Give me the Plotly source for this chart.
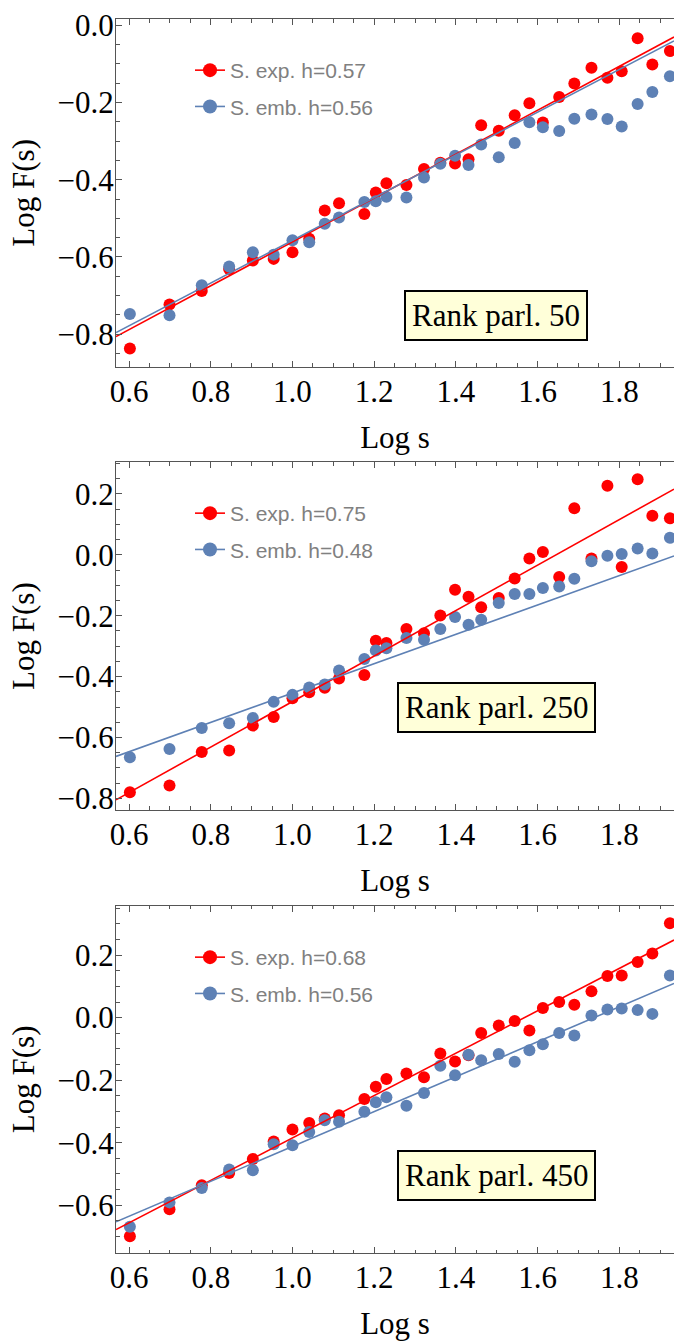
import numpy as np
import plotly.graph_objects as go

# ---------------- data ----------------
log_s = [0.602, 0.699, 0.778, 0.845, 0.903, 0.954, 1.000, 1.041, 1.079, 1.114,
         1.176, 1.204, 1.230, 1.279, 1.322, 1.362, 1.398, 1.431, 1.462, 1.505,
         1.544, 1.580, 1.613, 1.653, 1.690, 1.732, 1.771, 1.806, 1.845, 1.881, 1.924]

exp_50 = [-0.837, -0.723, -0.688, -0.631, -0.609, -0.605, -0.588, -0.553, -0.480, -0.461,
          -0.489, -0.433, -0.409, -0.414, -0.372, -0.356, -0.358, -0.347, -0.259, -0.273,
          -0.233, -0.202, -0.252, -0.186, -0.151, -0.110, -0.136, -0.119, -0.034, -0.102, -0.067]
emb_50 = [-0.748, -0.751, -0.673, -0.625, -0.588, -0.594, -0.557, -0.562, -0.514, -0.498,
          -0.458, -0.456, -0.444, -0.446, -0.394, -0.359, -0.338, -0.362, -0.309, -0.342,
          -0.305, -0.251, -0.264, -0.274, -0.242, -0.231, -0.243, -0.262, -0.204, -0.173, -0.132]

exp_250 = [-0.780, -0.758, -0.648, -0.643, -0.561, -0.533, -0.471, -0.451, -0.437, -0.406,
           -0.395, -0.282, -0.290, -0.244, -0.258, -0.199, -0.115, -0.138, -0.172, -0.142,
           -0.078, -0.012, 0.009, -0.073, 0.153, -0.012, 0.227, -0.040, 0.248, 0.128, 0.120]
emb_250 = [-0.665, -0.638, -0.569, -0.553, -0.536, -0.483, -0.460, -0.436, -0.426, -0.380,
           -0.342, -0.314, -0.307, -0.273, -0.279, -0.244, -0.204, -0.230, -0.213, -0.158,
           -0.129, -0.129, -0.109, -0.104, -0.079, -0.021, -0.003, 0.003, 0.021, 0.004, 0.056]

exp_450 = [-0.699, -0.613, -0.536, -0.497, -0.452, -0.396, -0.358, -0.337, -0.323, -0.312,
           -0.260, -0.221, -0.196, -0.179, -0.191, -0.115, -0.140, -0.120, -0.049, -0.025,
           -0.011, -0.041, 0.031, 0.050, 0.041, 0.084, 0.133, 0.135, 0.178, 0.205, 0.302]
emb_450 = [-0.669, -0.591, -0.545, -0.486, -0.488, -0.405, -0.408, -0.366, -0.328, -0.333,
           -0.301, -0.271, -0.255, -0.282, -0.241, -0.154, -0.184, -0.119, -0.136, -0.116,
           -0.141, -0.104, -0.085, -0.049, -0.057, 0.007, 0.026, 0.029, 0.024, 0.012, 0.135]

ranks = [50, 250, 450]
h_exp = [0.57, 0.75, 0.68]          # legend values
h_emb = [0.56, 0.48, 0.56]
fit_slope_exp = [0.568, 0.747, 0.678]
fit_icpt_exp = [-1.129, -1.229, -1.063]
fit_slope_emb = [0.553, 0.482, 0.558]
fit_icpt_emb = [-1.110, -0.936, -0.970]

exp_series = [exp_50, exp_250, exp_450]
emb_series = [emb_50, emb_250, emb_450]

x_range = [0.568, 1.934]
y_ranges = [[-0.884, 0.016], [-0.838, 0.304], [-0.753, 0.358]]
y_domains = [[0.7266, 0.9858], [0.3960, 0.6553], [0.0656, 0.3246]]

RED = "rgb(255,0,0)"
BLUE = "rgb(94,129,181)"
FRAME = "rgb(85,85,85)"
SERIF = "Liberation Serif, Times New Roman, serif"
SANS = "Liberation Sans, Arial, sans-serif"

W, H = 674, 1341
fig = go.Figure()

legend_px = [70, 513, 957]
box_px = [(496, 315), (496, 707), (496, 1175)]

for i in range(3):
    sfx = "" if i == 0 else str(i + 1)
    xa, ya = "x" + sfx, "y" + sfx
    leg = "legend" + sfx
    xs = np.array(x_range)
    fig.add_trace(go.Scatter(x=log_s, y=exp_series[i], mode="markers", xaxis=xa, yaxis=ya,
                             marker=dict(color=RED, size=12), showlegend=False))
    fig.add_trace(go.Scatter(x=log_s, y=emb_series[i], mode="markers", xaxis=xa, yaxis=ya,
                             marker=dict(color=BLUE, size=12), showlegend=False))
    fig.add_trace(go.Scatter(x=xs, y=fit_icpt_exp[i] + fit_slope_exp[i] * xs, mode="lines",
                             xaxis=xa, yaxis=ya, line=dict(color=RED, width=1.6), showlegend=False))
    fig.add_trace(go.Scatter(x=xs, y=fit_icpt_emb[i] + fit_slope_emb[i] * xs, mode="lines",
                             xaxis=xa, yaxis=ya, line=dict(color=BLUE, width=1.6), showlegend=False))
    # legend entries
    fig.add_trace(go.Scatter(x=[None], y=[None], mode="lines+markers", xaxis=xa, yaxis=ya,
                             name=f"S. exp. h={h_exp[i]:.2f}", legend=leg, legendgroup=f"e{i}",
                             marker=dict(color=RED, size=14), line=dict(color=RED, width=1.6)))
    fig.add_trace(go.Scatter(x=[None], y=[None], mode="lines+markers", xaxis=xa, yaxis=ya,
                             name=f"S. emb. h={h_emb[i]:.2f}", legend=leg, legendgroup=f"b{i}",
                             marker=dict(color=BLUE, size=14), line=dict(color=BLUE, width=1.6)))

    common_ticks = dict(ticks="inside", ticklen=6, tickwidth=1, tickcolor=FRAME,
                        showline=True, linecolor=FRAME, linewidth=1, showgrid=False,
                        zeroline=False, tickfont=dict(family=SERIF, size=31, color="black"),
                        automargin=False)
    fig.layout["xaxis" + sfx] = dict(
        domain=[116 / W, 1.0], range=x_range, anchor=ya, mirror="ticks",
        tickvals=[0.6, 0.8, 1.0, 1.2, 1.4, 1.6, 1.8], tickformat=".1f",
        ticklabelstandoff=-3,
        minor=dict(dtick=0.05, tick0=0, ticks="inside", ticklen=3.5, tickcolor=FRAME),
        title=dict(text="Log s", font=dict(family=SERIF, size=31, color="black"), standoff=18),
        **common_ticks)
    fig.layout["yaxis" + sfx] = dict(
        domain=y_domains[i], range=y_ranges[i], anchor=xa, mirror=False,
        dtick=0.2, tick0=0, tickformat=".1f", ticklabelstandoff=-5,
        minor=dict(dtick=0.05, tick0=0, ticks="inside", ticklen=3.5, tickcolor=FRAME),
        title=dict(text="Log F(s)", font=dict(family=SERIF, size=31, color="black"), standoff=13),
        **common_ticks)

    ly = legend_px[i]
    fig.layout[leg] = dict(x=190 / W, y=1 - (ly - 20) / H, xanchor="left", yanchor="top",
                           bgcolor="rgba(0,0,0,0)", borderwidth=0, traceorder="grouped",
                           tracegroupgap=6, itemsizing="trace",
                           font=dict(family=SANS, size=21, color="rgb(128,128,128)"))

    bx, by = box_px[i]
    fig.add_annotation(x=bx / W, y=1 - by / H, xref="paper", yref="paper",
                       text=f"Rank parl. {ranks[i]}", showarrow=False,
                       font=dict(family=SERIF, size=31, color="black"),
                       bgcolor="rgb(255,255,217)", bordercolor="black", borderwidth=2,
                       borderpad=6, xanchor="center", yanchor="middle")

fig.update_layout(width=W, height=H, margin=dict(l=0, r=0, t=0, b=0),
                  paper_bgcolor="white", plot_bgcolor="white")

fig.write_html("out.html")
